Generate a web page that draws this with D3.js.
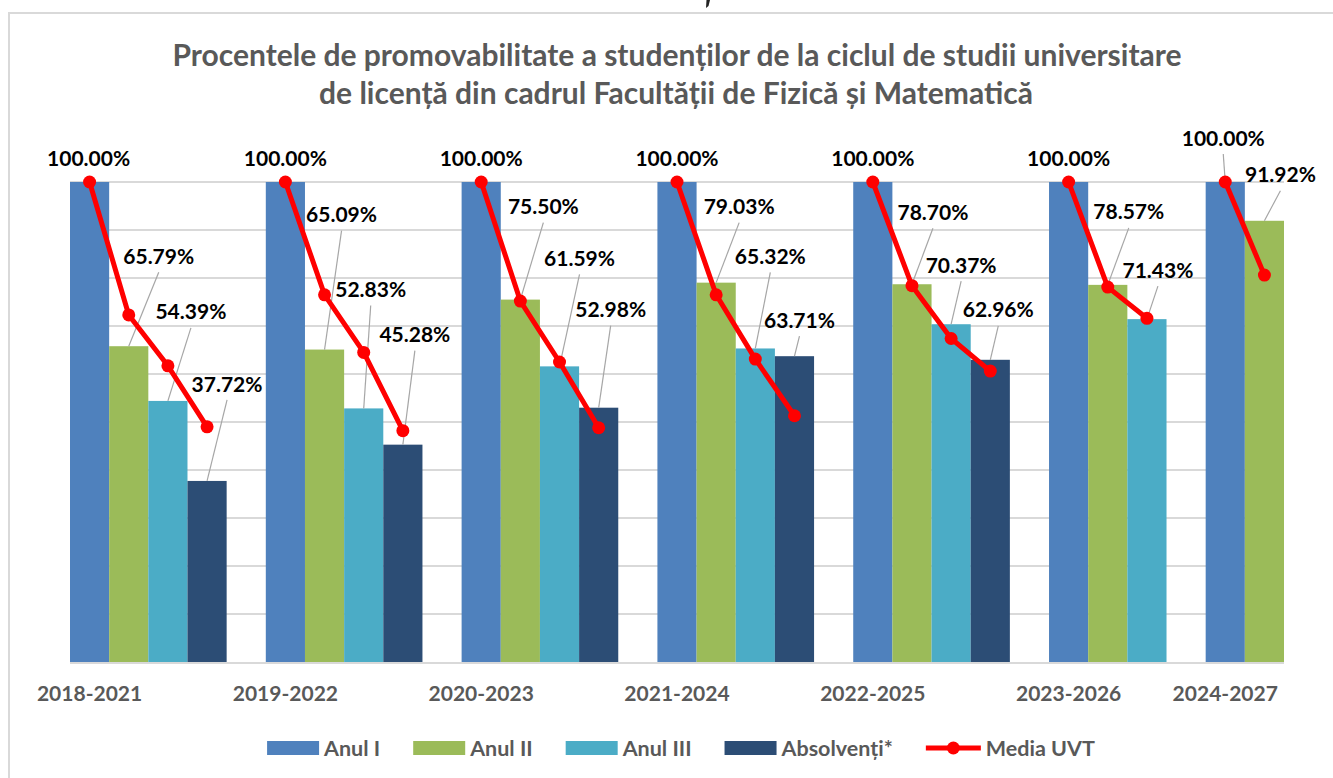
<!DOCTYPE html>
<html>
<head>
<meta charset="utf-8">
<script src="https://cdn.jsdelivr.net/npm/d3@7/dist/d3.min.js"></script>
<style>
    body { margin: 0; background: #fff; }
    svg { display: block; font-family: Lato, "Open Sans", sans-serif; }
</style>
</head>
<body>
<svg id="chart" width="1333" height="778"></svg>
<script>
const categories = ["2018-2021", "2019-2022", "2020-2023", "2021-2024", "2022-2025", "2023-2026", "2024-2027"];
const seriesNames = ["Anul I", "Anul II", "Anul III", "Absolvenți*"];
const anulI = [100, 100, 100, 100, 100, 100, 100];
const anulII = [65.79, 65.09, 75.50, 79.03, 78.70, 78.57, 91.92];
const anulIII = [54.39, 52.83, 61.59, 65.32, 70.37, 71.43, null];
const absolventi = [37.72, 45.28, 52.98, 63.71, 62.96, null, null];
// Media UVT, one short run per cohort
const mediaUVT = [
    [100, 72.3, 61.7, 49.0],
    [100, 76.5, 64.5, 48.2],
    [100, 75.2, 62.5, 48.8],
    [100, 76.5, 63.1, 51.3],
    [100, 78.4, 67.4, 60.6],
    [100, 78.1, 71.6],
    [100, 80.6]
];
const lineName = "Media UVT";
const gridTicks = d3.range(10, 101, 10);

// hand-placed data label offsets (px from bar top centre), as in the original
const labelNudge = [
    [[-1, -24], [30, -90], [23, -89], [20, -97]],
    [[0, -24], [17, -135], [7, -119], [12, -110]],
    [[0, -24], [23, -93], [20, -108], [12, -98]],
    [[0, -24], [23, -76], [15, -92], [5, -36]],
    [[0, -24], [21, -72], [10, -59], [8, -50]],
    [[0, -24], [21, -73], [11, -49]],
    [[-2, -44], [16, -46]]
];

const colors = ["#4f81bd", "#9bbb59", "#4bacc6", "#2c4d75"];
const red = "#ff0000";
const textGray = "#595959";

const svg = d3.select("#chart");
const seriesValues = [anulI, anulII, anulIII, absolventi];

// one slot per bar, plus an empty slot between cohorts
var slots = [];
categories.forEach(function (c, i) {
    seriesValues.forEach(function (vals, j) {
        if (vals[i] != null) slots.push(c + "|" + j);
    });
    if (i < categories.length - 1) slots.push("gap" + i);
});

const x = d3.scaleBand().domain(slots).range([70, 1284]).padding(0);
const y = d3.scaleLinear().domain([0, 100]).range([662, 182]);

// outer frame
svg.append("rect")
    .attr("x", 9).attr("y", 13)
    .attr("width", 1400).attr("height", 800)
    .attr("fill", "none")
    .attr("stroke", "#d9d9d9")
    .attr("stroke-width", 2);

// stray mark left over from the page above
svg.append("path")
    .attr("d", "M706.5,0 L710,0 L708.5,6 L706,8 Z")
    .attr("fill", "#222");

// title
const title = svg.append("text")
    .attr("text-anchor", "middle")
    .attr("font-weight", "bold")
    .attr("font-size", 30)
    .attr("fill", textGray);
title.append("tspan").attr("x", 677).attr("y", 66)
    .text("Procentele de promovabilitate a studenților de la ciclul de studii universitare");
title.append("tspan").attr("x", 676).attr("y", 104)
    .text("de licență din cadrul Facultății de Fizică și Matematică");

// gridlines
svg.append("g").selectAll("line")
    .data(gridTicks)
    .join("line")
    .attr("x1", 70).attr("x2", 1284)
    .attr("y1", function (d) { return y(d); })
    .attr("y2", function (d) { return y(d); })
    .attr("stroke", "#d9d9d9")
    .attr("stroke-width", 2);

// bars
var bars = [];
categories.forEach(function (c, i) {
    seriesValues.forEach(function (vals, j) {
        if (vals[i] != null) bars.push({ cat: i, s: j, key: c + "|" + j, v: vals[i] });
    });
});

svg.append("g").selectAll("rect")
    .data(bars)
    .join("rect")
    .attr("x", function (d) { return x(d.key); })
    .attr("width", x.bandwidth())
    .attr("y", function (d) { return y(d.v); })
    .attr("height", function (d) { return y(0) - y(d.v); })
    .attr("fill", function (d) { return colors[d.s]; });

// baseline
svg.append("line")
    .attr("x1", 70).attr("x2", 1284)
    .attr("y1", y(0) + 1).attr("y2", y(0) + 1)
    .attr("stroke", "#d9d9d9")
    .attr("stroke-width", 2);

// label positions
bars.forEach(function (d) {
    var n = labelNudge[d.cat][d.s];
    d.cx = x(d.key) + x.bandwidth() / 2;
    d.top = y(d.v);
    d.lx = d.cx + n[0];
    d.ly = d.top + n[1];
});

// leader lines
svg.append("g").selectAll("line")
    .data(bars.filter(function (d) { return d.top - (d.ly + 16) > 12; }))
    .join("line")
    .attr("x1", function (d) { return d.cx; })
    .attr("y1", function (d) { return d.top; })
    .attr("x2", function (d) { return d.lx; })
    .attr("y2", function (d) { return d.ly + 16; })
    .attr("stroke", "#a6a6a6")
    .attr("stroke-width", 1.2);

// Media UVT runs
const lineGen = d3.line()
    .x(function (d) { return d.x; })
    .y(function (d) { return d.y; });

var runs = mediaUVT.map(function (vals, i) {
    return vals.map(function (v, j) {
        var key = categories[i] + "|" + j;
        return { x: x(key) + x.bandwidth() / 2, y: y(v) };
    });
});

const lineG = svg.append("g");
lineG.selectAll("path")
    .data(runs)
    .join("path")
    .attr("d", lineGen)
    .attr("fill", "none")
    .attr("stroke", red)
    .attr("stroke-width", 5)
    .attr("stroke-linejoin", "round");

lineG.selectAll("circle")
    .data(runs.flat())
    .join("circle")
    .attr("cx", function (d) { return d.x; })
    .attr("cy", function (d) { return d.y; })
    .attr("r", 6.5)
    .attr("fill", red);

// data labels
svg.append("g").selectAll("text")
    .data(bars)
    .join("text")
    .attr("x", function (d) { return d.lx; })
    .attr("y", function (d) { return d.ly; })
    .attr("dy", "0.36em")
    .attr("text-anchor", "middle")
    .attr("font-weight", "bold")
    .attr("font-size", 21)
    .attr("fill", "#000")
    .text(function (d) { return d.v.toFixed(2) + "%"; });

// category labels
svg.append("g").selectAll("text")
    .data(categories)
    .join("text")
    .attr("x", function (c) { return x(c + "|0") + x.bandwidth() / 2; })
    .attr("y", 693)
    .attr("dy", "0.36em")
    .attr("text-anchor", "middle")
    .attr("font-weight", "bold")
    .attr("font-size", 21)
    .attr("fill", textGray)
    .text(function (c) { return c; });

// legend
const legend = svg.append("g");
var items = seriesNames.map(function (n, i) { return { name: n, color: colors[i], line: false }; });
items.push({ name: lineName, color: red, line: true });

var lx = 0;
items.forEach(function (it) {
    var g = legend.append("g").attr("transform", "translate(" + lx + ",0)");
    if (it.line) {
        g.append("line").attr("x1", 0).attr("x2", 55).attr("y1", 748).attr("y2", 748)
            .attr("stroke", red).attr("stroke-width", 5);
        g.append("circle").attr("cx", 27.5).attr("cy", 748).attr("r", 6.5).attr("fill", red);
    } else {
        g.append("rect").attr("x", 0).attr("y", 741).attr("width", 52).attr("height", 14)
            .attr("fill", it.color);
    }
    var sw = it.line ? 55 : 52;
    var t = g.append("text")
        .attr("x", sw + 5).attr("y", 748).attr("dy", "0.36em")
        .attr("font-weight", "bold").attr("font-size", 21.5)
        .attr("fill", textGray)
        .text(it.name);
    lx += sw + 5 + t.node().getComputedTextLength() + 33;
});
var legendW = lx - 33;
legend.attr("transform", "translate(" + (681 - legendW / 2) + ",0)");
</script>
</body>
</html>
